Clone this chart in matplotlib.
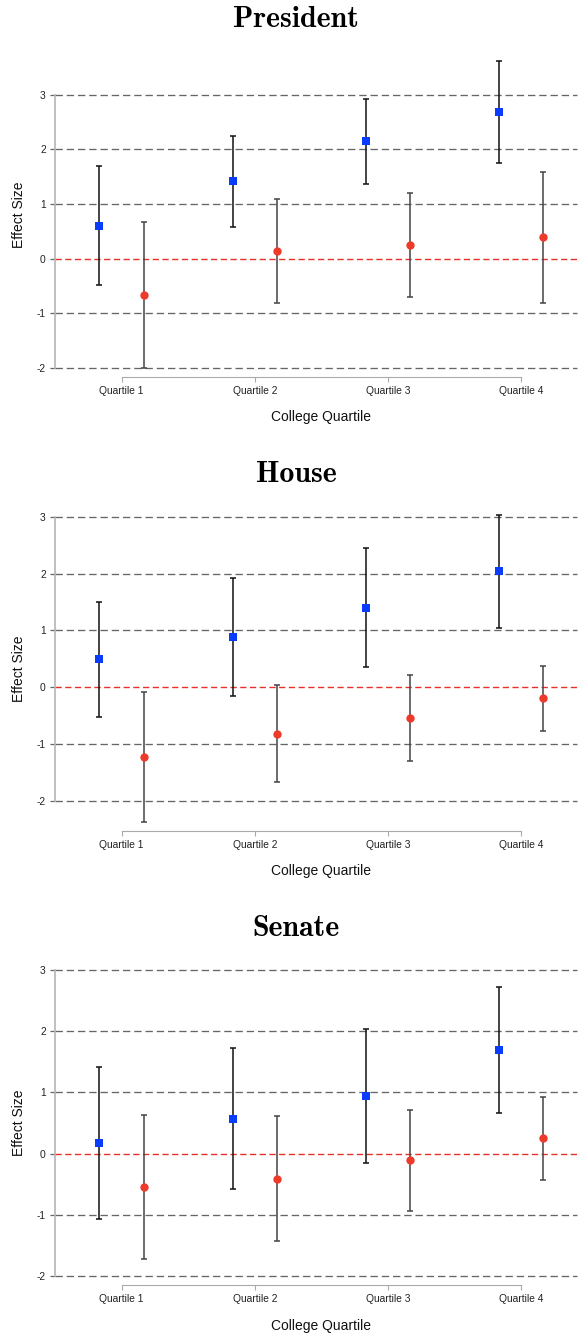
import matplotlib.pyplot as plt

plt.rcParams['font.family'] = ['Liberation Sans', 'DejaVu Sans']
plt.rcParams['axes.unicode_minus'] = False
plt.rcParams['lines.scale_dashes'] = False

quartiles = ['Quartile 1', 'Quartile 2', 'Quartile 3', 'Quartile 4']
titles = ['President', 'House', 'Senate']

# square (blue) series: estimate, lower, upper
blue_est = [[0.60, 1.42, 2.15, 2.69],
            [0.49, 0.88, 1.40, 2.04],
            [0.18, 0.57, 0.94, 1.69]]
blue_lo = [[-0.48, 0.58, 1.37, 1.75],
           [-0.52, -0.15, 0.35, 1.05],
           [-1.06, -0.58, -0.16, 0.67]]
blue_hi = [[1.69, 2.25, 2.93, 3.62],
           [1.50, 1.93, 2.45, 3.03],
           [1.42, 1.72, 2.04, 2.72]]

# circle (red) series: estimate, lower, upper
red_est = [[-0.67, 0.14, 0.24, 0.39],
           [-1.23, -0.82, -0.54, -0.20],
           [-0.54, -0.41, -0.10, 0.26]]
red_lo = [[-2.00, -0.82, -0.70, -0.82],
          [-2.37, -1.67, -1.30, -0.78],
          [-1.71, -1.43, -0.94, -0.43]]
red_hi = [[0.67, 1.10, 1.20, 1.59],
          [-0.09, 0.03, 0.21, 0.38],
          [0.63, 0.61, 0.72, 0.93]]

yticks = [-2, -1, 0, 1, 2, 3]

W, H = 579, 1335
fig = plt.figure(figsize=(W / 100, H / 100), dpi=100)

ax_left, ax_right = 55, 587.7
ax_h = 306.6
bottoms = [367.7, 821.7, 1276.3]
title_y = [27.3, 481.7, 936.0]
off = 1 / 6
xs = [1, 2, 3, 4]

for i in range(3):
    ax = fig.add_axes([ax_left / W, 1 - bottoms[i] / H,
                       (ax_right - ax_left) / W, ax_h / H])
    lo = min(min(blue_lo[i]), min(red_lo[i]), yticks[0])
    hi = max(max(blue_hi[i]), max(red_hi[i]), yticks[-1])
    ax.set_ylim(lo, hi)
    ax.set_xlim(0.5, 4.5)

    # dashed reference lines, red at zero
    for t in yticks:
        if t == 0:
            ax.axhline(t, xmax=0.98, color='#e8302a', lw=1.0,
                       dashes=(4.5, 2.5), zorder=1, clip_on=False)
        else:
            ax.axhline(t, xmax=0.98, color='#666666', lw=0.95,
                       dashes=(5.3, 2.8), zorder=1, clip_on=False)

    bx = [x - off for x in xs]
    rx = [x + off for x in xs]
    ax.errorbar(bx, blue_est[i],
                yerr=[[e - l for e, l in zip(blue_est[i], blue_lo[i])],
                      [h - e for e, h in zip(blue_est[i], blue_hi[i])]],
                fmt='none', ecolor='#111111', elinewidth=1.1,
                capsize=2.4, capthick=1.1, zorder=2, clip_on=False)
    ax.errorbar(rx, red_est[i],
                yerr=[[e - l for e, l in zip(red_est[i], red_lo[i])],
                      [h - e for e, h in zip(red_est[i], red_hi[i])]],
                fmt='none', ecolor='#444444', elinewidth=1.1,
                capsize=2.4, capthick=1.1, zorder=2, clip_on=False)
    ax.plot(bx, blue_est[i], 's', color='#0a3cff', ms=5.2, mew=0, zorder=3)
    ax.plot(rx, red_est[i], 'o', color='#ee3a2a', ms=6, mew=0, zorder=3)

    for s in ['top', 'right']:
        ax.spines[s].set_visible(False)
    ax.spines['left'].set_bounds(-2, 3)
    ax.spines['left'].set_color('#b5b5b5')
    ax.spines['left'].set_linewidth(1.2)
    ax.spines['bottom'].set_bounds(1, 4)
    ax.spines['bottom'].set_position(('outward', 6.5))
    ax.spines['bottom'].set_color('#aaaaaa')
    ax.spines['bottom'].set_linewidth(0.8)

    ax.set_yticks(yticks)
    ax.set_yticklabels([str(t) for t in yticks])
    ax.set_xticks(xs)
    ax.set_xticklabels(quartiles)
    ax.tick_params(axis='y', length=3.6, width=0.9, color='#666666',
                   pad=3, labelsize=7.4, labelcolor='#222222')
    ax.tick_params(axis='x', length=3.4, width=0.8, color='#aaaaaa',
                   pad=3, labelsize=7.4, labelcolor='#222222')

    ax.set_ylabel('Effect Size', fontsize=10, color='#111111')
    ax.yaxis.set_label_coords(-0.0537, 0.5)
    ax.set_xlabel('College Quartile', fontsize=10, color='#111111')
    ax.xaxis.set_label_coords(0.5, -0.138)

    fig.text(296 / W, 1 - title_y[i] / H, titles[i], family='cmb10',
             fontsize=21.5, ha='center', va='baseline')

fig.savefig('out.png', dpi=100)
